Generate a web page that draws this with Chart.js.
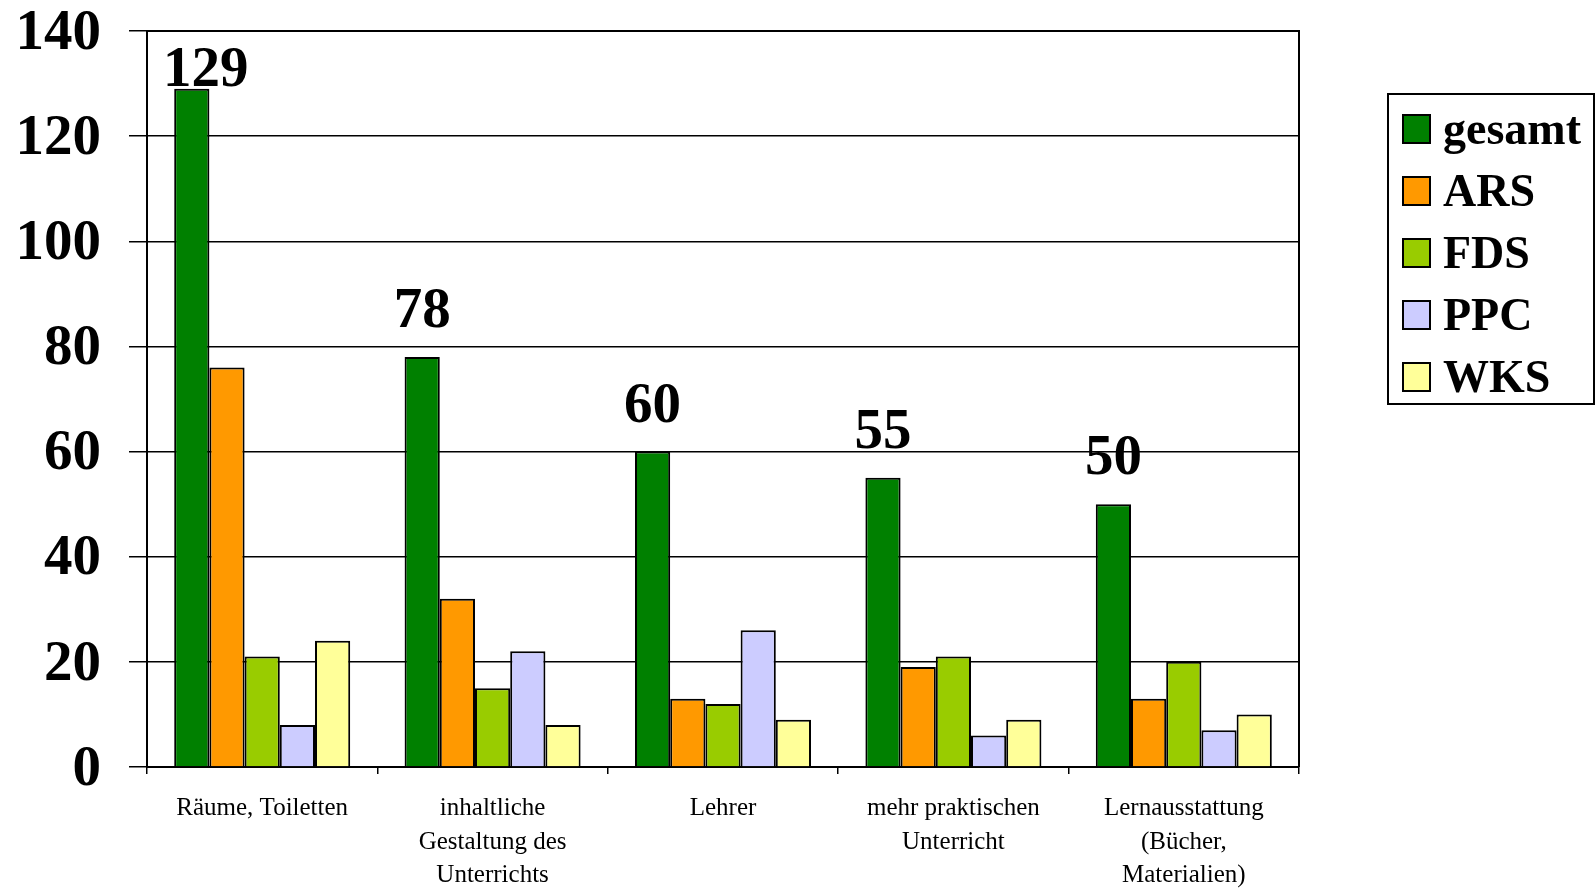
<!DOCTYPE html>
<html>
<head>
<meta charset="utf-8">
<script src="https://cdn.jsdelivr.net/npm/chart.js@4.4.0/dist/chart.umd.min.js"></script>
<style>
  html, body { margin: 0; padding: 0; background: #fff; }
  #wrap { width: 1595px; height: 889px; position: relative; }
</style>
</head>
<body>
<div id="wrap"><canvas id="c" width="1595" height="889"></canvas></div>
<script>
const categories = [
  "Räume, Toiletten",
  ["inhaltliche", "Gestaltung des", "Unterrichts"],
  "Lehrer",
  ["mehr praktischen", "Unterricht"],
  ["Lernausstattung", "(Bücher,", "Materialien)"]
];
const seriesNames = ["gesamt", "ARS", "FDS", "PPC", "WKS"];
const gesamt = [129, 78, 60, 55, 50];
const ars    = [76, 32, 13, 19, 13];
const fds    = [21, 15, 12, 21, 20];
const ppc    = [8, 22, 26, 6, 7];
const wks    = [24, 8, 9, 9, 10];
const seriesColors = ["#008000", "#FF9900", "#99CC00", "#CCCCFF", "#FFFF99"];
const yTicks = [0, 20, 40, 60, 80, 100, 120, 140];

const SERIF = "'Liberation Serif', 'Times New Roman', serif";
const values = [gesamt, ars, fds, ppc, wks];

const plotBorder = {
  id: 'plotBorder',
  afterDraw(chart) {
    const a = chart.chartArea, ctx = chart.ctx;
    ctx.save();
    ctx.strokeStyle = '#000';
    ctx.lineWidth = 2;
    ctx.beginPath();
    ctx.moveTo(a.left, a.top);
    ctx.lineTo(a.right, a.top);
    ctx.lineTo(a.right, a.bottom);
    ctx.stroke();
    ctx.restore();
  }
};

const valueLabels = {
  id: 'valueLabels',
  afterDatasetsDraw(chart) {
    const ctx = chart.ctx, a = chart.chartArea;
    const meta = chart.getDatasetMeta(0);
    ctx.save();
    ctx.font = "bold 57px " + SERIF;
    ctx.fillStyle = '#000';
    ctx.textAlign = 'center';
    ctx.textBaseline = 'alphabetic';
    meta.data.forEach((bar, i) => {
      const v = chart.data.datasets[0].data[i];
      const free = bar.y - 30;
      const minY = a.top + 55;
      const clamped = free < minY;
      const y = clamped ? minY : free;
      const x = clamped ? bar.x + bar.width * 0.4 : bar.x;
      ctx.fillText(String(v), x, y);
    });
    ctx.restore();
  }
};

const boxLegend = {
  id: 'boxLegend',
  afterDraw(chart) {
    const ctx = chart.ctx, a = chart.chartArea;
    const left = a.right + 89, top = 94, w = 206, h = 310;
    ctx.save();
    ctx.strokeStyle = '#000';
    ctx.lineWidth = 2;
    ctx.strokeRect(left, top, w, h);
    ctx.font = "bold 46px " + SERIF;
    ctx.textAlign = 'left';
    ctx.textBaseline = 'alphabetic';
    chart.data.datasets.forEach((ds, i) => {
      const cy = top + 35 + i * 62;
      ctx.fillStyle = ds.backgroundColor;
      ctx.fillRect(left + 15, cy - 14, 27, 28);
      ctx.lineWidth = 2;
      ctx.strokeRect(left + 15, cy - 14, 27, 28);
      ctx.fillStyle = '#000';
      ctx.fillText(ds.label, left + 55, cy + 15);
    });
    ctx.restore();
  }
};

new Chart(document.getElementById('c'), {
  type: 'bar',
  data: {
    labels: categories,
    datasets: seriesNames.map((n, i) => ({
      label: n,
      data: values[i],
      backgroundColor: seriesColors[i],
      borderColor: '#000',
      borderWidth: 2,
      borderSkipped: 'bottom',
      categoryPercentage: 0.764,
      barPercentage: 1.0
    }))
  },
  options: {
    responsive: false,
    animation: false,
    devicePixelRatio: 1,
    layout: { padding: { left: 17, right: 296, top: 31, bottom: 0 } },
    plugins: {
      legend: { display: false },
      tooltip: { enabled: false }
    },
    scales: {
      y: {
        min: 0, max: 140,
        afterBuildTicks(scale) { scale.ticks = yTicks.map(v => ({ value: v })); },
        ticks: {
          color: '#000',
          font: { family: SERIF, size: 57, weight: 'bold' },
          padding: 28,
          labelOffset: 3
        },
        grid: { color: '#000', lineWidth: 1.5, tickLength: 18, drawTicks: true },
        border: { color: '#000', width: 2 },
        afterFit(scale) { scale.width = 130; scale.paddingTop = 0; scale.paddingBottom = 0; }
      },
      x: {
        offset: true,
        ticks: {
          color: '#000',
          font: { family: SERIF, size: 25, lineHeight: 1.34 },
          padding: 18,
          maxRotation: 0,
          autoSkip: false
        },
        grid: { offset: true, drawOnChartArea: false, color: '#000', lineWidth: 1.5, tickLength: 7 },
        border: { color: '#000', width: 2 },
        afterFit(scale) { scale.height = 122; scale.paddingLeft = 0; scale.paddingRight = 0; }
      }
    }
  },
  plugins: [plotBorder, valueLabels, boxLegend]
});
</script>
</body>
</html>
